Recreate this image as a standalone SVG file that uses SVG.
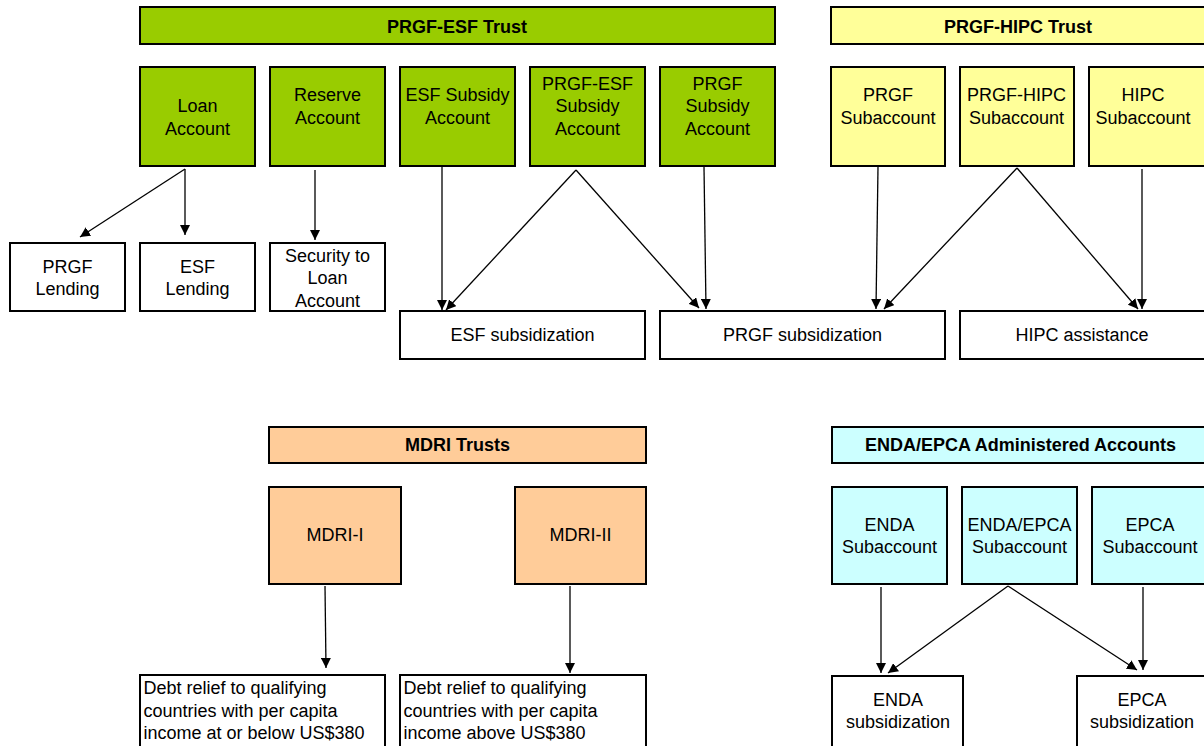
<svg xmlns="http://www.w3.org/2000/svg" width="1204" height="746" viewBox="0 0 1204 746">
<defs>
<style>
.box{stroke:#000;stroke-width:2}
.g{fill:#99CC00}.y{fill:#FFFF99}.o{fill:#FFCC99}.c{fill:#CCFFFF}.w{fill:#FFFFFF}
text{font-family:"Liberation Sans",Arial,sans-serif;font-size:18px;fill:#000}
.t{font-weight:bold;text-anchor:middle}
.m{text-anchor:middle}
.e line{stroke:#000;stroke-width:1.3;marker-end:url(#ah)}
</style>
<marker id="ah" viewBox="0 0 10 10" refX="10" refY="5" markerWidth="10" markerHeight="10" markerUnits="userSpaceOnUse" orient="auto">
<path d="M0,0 L10,5 L0,10 z" fill="#000"/>
</marker>
</defs>
<rect width="1204" height="746" fill="#fff"/>

<g id="prgf-esf-trust"><rect class="box g" x="140" y="7" width="635" height="37"/><text class="t" x="457" y="32.5">PRGF-ESF Trust</text></g>
<g id="loan-account"><rect class="box g" x="140" y="67" width="115" height="99"/><text class="m" x="197.5" y="112">Loan</text><text class="m" x="197.5" y="135">Account</text></g>
<g id="reserve-account"><rect class="box g" x="270" y="67" width="115" height="99"/><text class="m" x="327.5" y="100.5">Reserve</text><text class="m" x="327.5" y="123.5">Account</text></g>
<g id="esf-subsidy-account"><rect class="box g" x="400" y="67" width="115" height="99"/><text class="m" x="457.5" y="100.5">ESF Subsidy</text><text class="m" x="457.5" y="123.5">Account</text></g>
<g id="prgf-esf-subsidy-account"><rect class="box g" x="530" y="67" width="115" height="99"/><text class="m" x="587.5" y="89.5">PRGF-ESF</text><text class="m" x="587.5" y="112">Subsidy</text><text class="m" x="587.5" y="135">Account</text></g>
<g id="prgf-subsidy-account"><rect class="box g" x="660" y="67" width="115" height="99"/><text class="m" x="717.5" y="89.5">PRGF</text><text class="m" x="717.5" y="112">Subsidy</text><text class="m" x="717.5" y="135">Account</text></g>

<g id="prgf-hipc-trust"><rect class="box y" x="831" y="7" width="376" height="37"/><text class="t" x="1018" y="32.5">PRGF-HIPC Trust</text></g>
<g id="prgf-subaccount"><rect class="box y" x="831" y="67" width="114" height="99"/><text class="m" x="888" y="100.5">PRGF</text><text class="m" x="888" y="123.5">Subaccount</text></g>
<g id="prgf-hipc-subaccount"><rect class="box y" x="960" y="67" width="114" height="99"/><text class="m" x="1016.5" y="100.5">PRGF-HIPC</text><text class="m" x="1016.5" y="123.5">Subaccount</text></g>
<g id="hipc-subaccount"><rect class="box y" x="1089" y="67" width="118" height="99"/><text class="m" x="1143" y="100.5">HIPC</text><text class="m" x="1143" y="123.5">Subaccount</text></g>

<g id="prgf-lending"><rect class="box w" x="10" y="243" width="115" height="68"/><text class="m" x="67.5" y="273">PRGF</text><text class="m" x="67.5" y="295">Lending</text></g>
<g id="esf-lending"><rect class="box w" x="140" y="243" width="115" height="68"/><text class="m" x="197.5" y="273">ESF</text><text class="m" x="197.5" y="295">Lending</text></g>
<g id="security"><rect class="box w" x="270" y="243" width="115" height="68"/><text class="m" x="327.5" y="262">Security to</text><text class="m" x="327.5" y="284">Loan</text><text class="m" x="327.5" y="306.5">Account</text></g>
<g id="esf-subsidization"><rect class="box w" x="400" y="311" width="245" height="48"/><text class="m" x="522.5" y="341">ESF subsidization</text></g>
<g id="prgf-subsidization"><rect class="box w" x="660" y="311" width="285" height="48"/><text class="m" x="802.5" y="341">PRGF subsidization</text></g>
<g id="hipc-assistance"><rect class="box w" x="960" y="311" width="247" height="48"/><text class="m" x="1082" y="341">HIPC assistance</text></g>

<g id="mdri-trusts"><rect class="box o" x="269" y="427" width="377" height="36"/><text class="t" x="457.5" y="451">MDRI Trusts</text></g>
<g id="mdri-i"><rect class="box o" x="269" y="487" width="132" height="97"/><text class="m" x="335" y="541">MDRI-I</text></g>
<g id="mdri-ii"><rect class="box o" x="515" y="487" width="131" height="97"/><text class="m" x="580.5" y="541">MDRI-II</text></g>
<g id="debt-relief-1"><rect class="box w" x="140" y="675" width="245" height="80"/><text x="143.5" y="694">Debt relief to qualifying</text><text x="143.5" y="716.5">countries with per capita</text><text x="143.5" y="739">income at or below US$380</text></g>
<g id="debt-relief-2"><rect class="box w" x="400" y="675" width="246" height="80"/><text x="403.5" y="694">Debt relief to qualifying</text><text x="403.5" y="716.5">countries with per capita</text><text x="403.5" y="739">income above US$380</text></g>

<g id="enda-epca-accounts"><rect class="box c" x="832" y="427" width="376" height="36"/><text class="t" x="1020.5" y="451">ENDA/EPCA Administered Accounts</text></g>
<g id="enda-subaccount"><rect class="box c" x="832" y="487" width="115" height="97"/><text class="m" x="889.5" y="530.5">ENDA</text><text class="m" x="889.5" y="553">Subaccount</text></g>
<g id="enda-epca-subaccount"><rect class="box c" x="962" y="487" width="115" height="97"/><text class="m" x="1019.5" y="530.5">ENDA/EPCA</text><text class="m" x="1019.5" y="553">Subaccount</text></g>
<g id="epca-subaccount"><rect class="box c" x="1092" y="487" width="116" height="97"/><text class="m" x="1150" y="530.5">EPCA</text><text class="m" x="1150" y="553">Subaccount</text></g>
<g id="enda-subsidization"><rect class="box w" x="832" y="676" width="131" height="80"/><text class="m" x="898" y="706">ENDA</text><text class="m" x="898" y="728">subsidization</text></g>
<g id="epca-subsidization"><rect class="box w" x="1077" y="676" width="131" height="80"/><text class="m" x="1142" y="706">EPCA</text><text class="m" x="1142" y="728">subsidization</text></g>

<g id="connectors" class="e">
<line x1="185" y1="169" x2="80" y2="237"/>
<line x1="185" y1="169" x2="185" y2="235"/>
<line x1="315" y1="170" x2="315" y2="240"/>
<line x1="442" y1="167" x2="442" y2="310"/>
<line x1="576" y1="170" x2="446" y2="310"/>
<line x1="576" y1="170" x2="699" y2="308"/>
<line x1="704" y1="167" x2="706" y2="309"/>
<line x1="878" y1="167" x2="876" y2="309"/>
<line x1="1017" y1="168" x2="884" y2="309"/>
<line x1="1017" y1="168" x2="1138" y2="309"/>
<line x1="1142" y1="169" x2="1142" y2="309"/>
<line x1="325" y1="586" x2="326" y2="668"/>
<line x1="570" y1="586" x2="570" y2="673"/>
<line x1="881" y1="587" x2="881" y2="673"/>
<line x1="1008" y1="586" x2="888" y2="673"/>
<line x1="1008" y1="586" x2="1137" y2="670"/>
<line x1="1143" y1="587" x2="1143" y2="670"/>
</g>
</svg>
